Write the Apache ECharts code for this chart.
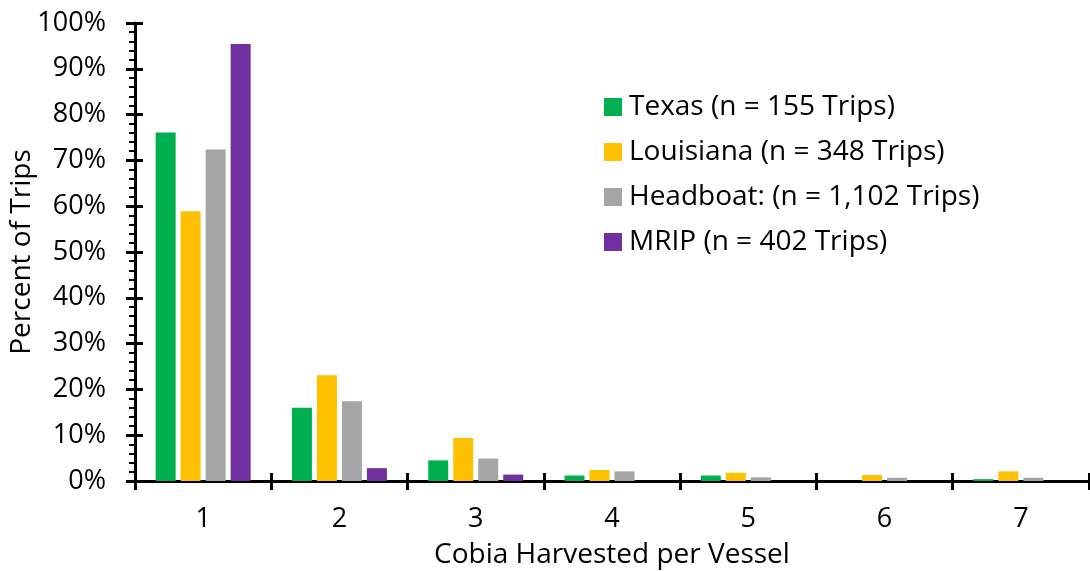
<!DOCTYPE html>
<html>
<head>
<meta charset="utf-8">
<script src="https://cdn.jsdelivr.net/npm/echarts@6/dist/echarts.min.js"></script>
<style>
  html, body { margin: 0; padding: 0; background: #fff; }
  #chart { width: 1090px; height: 571px; }
</style>
</head>
<body>
<div id="chart"></div>
<script>
const categories = ['1', '2', '3', '4', '5', '6', '7']
const texas = [76.1, 16.0, 4.5, 1.2, 1.2, 0, 0.4]
const louisiana = [58.9, 23.1, 9.4, 2.4, 1.8, 1.3, 2.1]
const headboat = [72.4, 17.4, 4.9, 2.1, 0.8, 0.7, 0.7]
const mrip = [95.4, 2.8, 1.4, 0, 0, 0, 0]
const seriesNames = [
  'Texas (n = 155 Trips)',
  'Louisiana (n = 348 Trips)',
  'Headboat: (n = 1,102 Trips)',
  'MRIP (n = 402 Trips)'
]

const font = 'Open Sans'
const chart = echarts.init(document.getElementById('chart'))

const bar = (name, data) => ({
  name,
  type: 'bar',
  data,
  barWidth: 20,
  barGap: '25%',
  xAxisIndex: 0,
  yAxisIndex: 0
})

const option = {
  animation: false,
  color: ['#00B050', '#FFC000', '#A5A5A5', '#7030A0'],
  textStyle: { fontFamily: font, color: '#000' },
  grid: { left: 135, right: 1, top: 23, bottom: 90, containLabel: false, outerBoundsMode: 'none' },
  legend: {
    orient: 'vertical',
    left: 599,
    top: 88,
    itemWidth: 18,
    itemHeight: 18,
    itemGap: 17,
    icon: 'rect',
    textStyle: { fontFamily: font, fontSize: 28, color: '#000', padding: [0, 0, 0, 2] },
    data: seriesNames
  },
  xAxis: [
    {
      type: 'category',
      data: categories,
      name: 'Cobia Harvested per Vessel',
      nameLocation: 'middle',
      nameGap: 60,
      nameMoveOverlap: false,
      nameTextStyle: { fontFamily: font, fontSize: 28, color: '#000' },
      axisLine: { lineStyle: { color: '#000', width: 3 } },
      axisTick: { show: true, length: 9, lineStyle: { color: '#000', width: 3 } },
      axisLabel: { margin: 25, fontFamily: font, fontSize: 27, color: '#000' }
    },
    {
      type: 'category',
      data: categories,
      position: 'bottom',
      offset: 0,
      axisLine: { show: false },
      axisTick: { show: true, inside: true, length: 8, lineStyle: { color: '#000', width: 3 } },
      axisLabel: { show: false }
    }
  ],
  yAxis: [
    {
      type: 'value',
      min: 0,
      max: 100,
      interval: 10,
      name: 'Percent of Trips',
      nameLocation: 'middle',
      nameGap: 99,
      nameMoveOverlap: false,
      nameTextStyle: { fontFamily: font, fontSize: 28, color: '#000' },
      splitLine: { show: false },
      axisLine: { show: true, lineStyle: { color: '#000', width: 3 } },
      axisTick: { show: true, length: 9, lineStyle: { color: '#000', width: 3 } },
      minorTick: { show: true, splitNumber: 5, length: 6, lineStyle: { color: '#000', width: 2 } },
      axisLabel: { margin: 29, formatter: '{value}%', fontFamily: font, fontSize: 27, color: '#000' }
    },
    {
      type: 'value',
      min: 0,
      max: 100,
      interval: 10,
      position: 'left',
      offset: 0,
      splitLine: { show: false },
      axisLine: { show: false },
      axisTick: { show: true, inside: true, length: 8, lineStyle: { color: '#000', width: 3 } },
      axisLabel: { show: false }
    }
  ],
  series: [
    bar(seriesNames[0], texas),
    bar(seriesNames[1], louisiana),
    bar(seriesNames[2], headboat),
    bar(seriesNames[3], mrip)
  ]
}
chart.setOption(option)
</script>
</body>
</html>
